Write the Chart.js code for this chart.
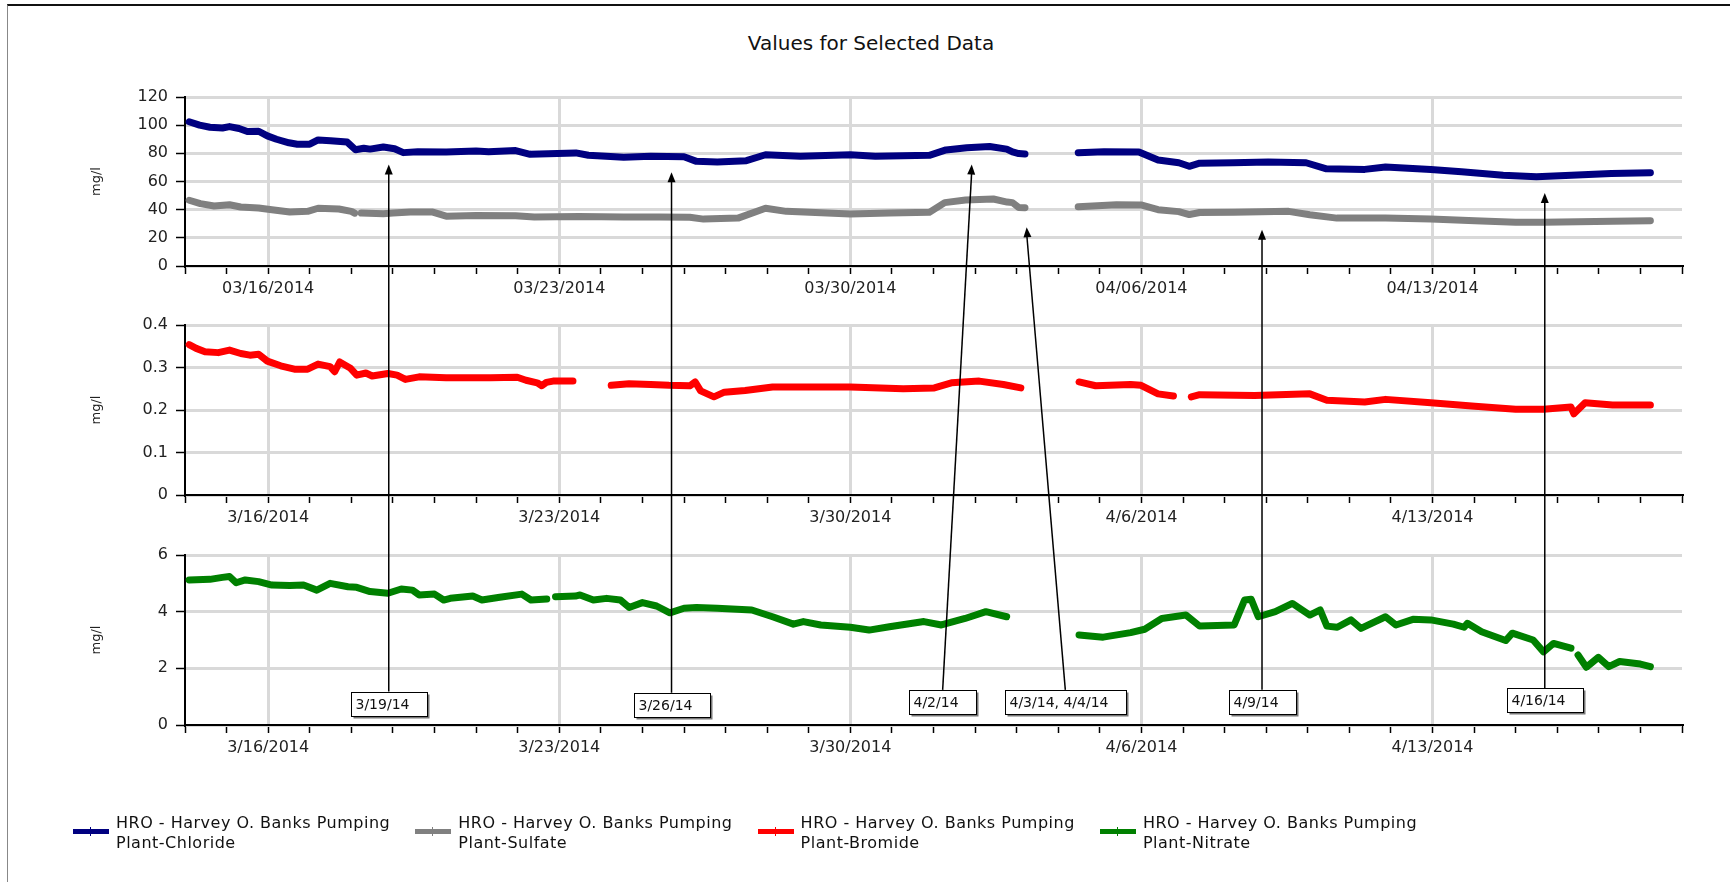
<!DOCTYPE html>
<html lang="en">
<head>
<meta charset="UTF-8">
<title>Values for Selected Data</title>
<script src="https://cdn.jsdelivr.net/npm/chart.js"></script>
<style>
  body { margin: 0; background: #fff; font-family: 'DejaVu Sans', sans-serif; }
  #wrap { position: relative; width: 1730px; height: 882px; overflow: hidden; }
  .frame { position: absolute; left: 7px; top: 4px; right: -10px; bottom: -10px;
           border-top: 2px solid #111; border-left: 1px solid #888; }
  canvas { position: absolute; left: 0; top: 0; }
  h1 { position: absolute; left: 0; top: 31px; width: 1742px; margin: 0; font-size: 20px;
       line-height: 24px; font-weight: normal; text-align: center; color: #111; }
  .lg { position: absolute; top: 813px; font-size: 16px; line-height: 20px; letter-spacing: 0.5px;
        color: #111; white-space: pre-line; }
  .lg .mark { position: absolute; left: 0; top: 16px; width: 36px; height: 5px; }
  .lg .mark::after { content: ''; position: absolute; left: 17px; top: -2px; width: 1px; height: 9px; background: inherit; }
  .lg .txt { margin-left: 43px; }
</style>
</head>
<body>
<div id="wrap">
  <div class="frame"></div>
  <h1>Values for Selected Data</h1>
  <canvas id="c1" width="1730" height="882"></canvas>
  <canvas id="c2" width="1730" height="882"></canvas>
  <canvas id="c3" width="1730" height="882"></canvas>
  <div id="legend"></div>
</div>

<script>
  // x is in days since 3/14/2014 00:00
  const dayTicks = Array.from({ length: 37 }, (_, i) => i);
  const weekTicks = [2, 9, 16, 23, 30];
  const topTickLabels = ['03/16/2014', '03/23/2014', '03/30/2014', '04/06/2014', '04/13/2014'];
  const lowTickLabels = ['3/16/2014', '3/23/2014', '3/30/2014', '4/6/2014', '4/13/2014'];

  const seriesNames = [
    'HRO - Harvey O. Banks Pumping\nPlant-Chloride',
    'HRO - Harvey O. Banks Pumping\nPlant-Sulfate',
    'HRO - Harvey O. Banks Pumping\nPlant-Bromide',
    'HRO - Harvey O. Banks Pumping\nPlant-Nitrate'
  ];
  const seriesColors = ['#000080', '#808080', '#ff0000', '#008000'];

  const chlorideDay = [0.1, 0.35, 0.6, 0.9, 1.07, 1.3, 1.5, 1.77, 1.98, 2.2, 2.5, 2.7, 3.0, 3.2, 3.5, 3.9, 4.1, 4.3, 4.45, 4.77,
    5.04, 5.25, 5.6, 6.28, 7.0, 7.3, 7.95, 8.3, 8.95, 9.4, 9.7, 10.55, 11.2, 12.0, 12.3, 12.8, 13.5, 13.96, 14.8, 16,
    16.6, 17.9, 18.3, 18.8, 19.35, 19.76, 19.9, 20.05, 20.2, 20.8, 21.48, 22.1, 22.94, 23.4, 23.9, 24.15, 24.4, 25.2, 26.05, 26.96,
    27.45, 28.37, 28.87, 29.96, 30.7, 31.7, 32.5, 33.2, 34.3, 35.24];
  const chlorideMgl = [102.4, 100, 98.5, 98, 99, 97.6, 95.5, 95.7, 92.4, 90, 87.5, 86.5, 86.5, 89.5, 89, 88, 82.5, 83.6, 83, 84.5,
    83.3, 80.5, 81.2, 81, 81.7, 81.2, 82, 79.3, 79.8, 80.3, 78.6, 77.3, 78, 77.6, 74.3, 73.8, 74.8, 79, 78, 79,
    78, 78.6, 82.4, 84, 84.8, 83, 81, 79.8, 79.5, null, 80.5, 81.2, 81, 75.2, 73.3, 70.8, 73, 73.3, 73.8, 73.3,
    69, 68.6, 70.3, 68.6, 67, 64.5, 63.3, 64.3, 65.7, 66.2];

  const sulfateDay = [0.1, 0.37, 0.7, 1.07, 1.34, 1.77, 2.09, 2.52, 2.95, 3.2, 3.7, 4.0, 4.08, 4.15, 4.24, 4.77, 5.0, 5.42, 5.96, 6.28,
    7.0, 7.95, 8.4, 9.48, 10.55, 11.4, 12.14, 12.47, 13.3, 13.96, 14.46, 16, 16.94, 17.9, 18.27, 18.77, 19.44, 19.77, 19.9, 20.05,
    20.2, 20.8, 21.48, 22.4, 22.99, 23.4, 23.9, 24.15, 24.4, 25.22, 26.54, 27.05, 27.7, 28.87, 29.96, 31.02, 32.0, 32.67, 34.33, 35.24];
  const sulfateMgl = [46.7, 44.3, 42.6, 43.5, 41.9, 41.2, 40, 38.3, 38.8, 41, 40.5, 38.8, 37.5, null, 37.6, 37.1, 37.6, 38.3, 38.3, 35.4,
    35.9, 35.7, 34.8, 35.2, 34.8, 34.8, 34.6, 33.3, 34, 41, 38.8, 36.9, 37.6, 38.1, 45, 46.8, 47.6, 45.4, 45, 41.5,
    41.4, null, 42.1, 43.5, 43.4, 40, 38.6, 36.5, 38, 38.1, 38.8, 36.4, 34, 34, 33.3, 32.1, 31, 31, 31.7, 32.1];

  const bromideDay = [0.1, 0.27, 0.48, 0.8, 1.07, 1.34, 1.56, 1.77, 1.98, 2.3, 2.63, 2.95, 3.2, 3.49, 3.6, 3.72, 3.97, 4.13, 4.35, 4.5,
    4.88, 5.1, 5.3, 5.63, 6.28, 6.92, 7.35, 7.99, 8.2, 8.47, 8.58, 8.69, 8.85, 9.07, 9.33, 9.8, 10.25, 10.68, 11.2, 11.64,
    12.14, 12.27, 12.4, 12.72, 12.97, 13.47, 14.13, 15.29, 16, 17.27, 18.02, 18.43, 19.1, 19.68, 20.1, 20.8, 21.5, 21.9, 22.74, 22.99,
    23.4, 23.77, 24.0, 24.2, 24.4, 25.72, 27.05, 27.46, 28.37, 28.87, 29.96, 31.02, 32.0, 32.67, 33.33, 33.4, 33.67, 34.33, 35.24];
  const bromideMgl = [0.354, 0.345, 0.337, 0.335, 0.341, 0.333, 0.329, 0.331, 0.315, 0.304, 0.296, 0.296, 0.308, 0.302, 0.29, 0.313, 0.299, 0.282, 0.287, 0.28,
    0.286, 0.282, 0.272, 0.278, 0.276, 0.276, 0.276, 0.277, 0.27, 0.264, 0.257, 0.265, 0.268, 0.268, 0.268, null, 0.258, 0.262, 0.26, 0.258,
    0.257, 0.266, 0.245, 0.231, 0.242, 0.246, 0.254, 0.254, 0.254, 0.25, 0.252, 0.264, 0.268, 0.26, 0.252, null, 0.266, 0.257, 0.26, 0.258,
    0.238, 0.233, null, 0.231, 0.236, 0.234, 0.238, 0.223, 0.219, 0.225, 0.217, 0.209, 0.202, 0.202, 0.207, 0.191, 0.217, 0.212, 0.212];

  const nitrateDay = [0.1, 0.6, 0.9, 1.07, 1.23, 1.45, 1.77, 2.09, 2.52, 2.85, 3.17, 3.49, 3.92, 4.13, 4.45, 4.88, 5.2, 5.47, 5.63, 6.0,
    6.22, 6.38, 6.92, 7.14, 7.57, 8.1, 8.32, 8.7, 8.8, 8.91, 9.39, 9.5, 9.82, 10.14, 10.47, 10.68, 11.0, 11.34, 11.66, 12.0,
    12.3, 12.8, 13.63, 14.13, 14.63, 14.87, 15.29, 16, 16.45, 16.94, 17.77, 18.19, 18.76, 19.26, 19.76, 20.5, 21.5, 22.08, 22.74, 23.08,
    23.49, 24.07, 24.4, 25.23, 25.48, 25.64, 25.81, 26.22, 26.63, 27.05, 27.3, 27.46, 27.71, 28.04, 28.28, 28.87, 29.12, 29.53, 29.96, 30.5,
    30.76, 30.84, 31.18, 31.76, 31.92, 32.42, 32.67, 32.91, 33.33, 33.42, 33.5, 33.7, 33.99, 34.24, 34.5, 35.0, 35.24];
  const nitrateMgl = [5.12, 5.14, 5.21, 5.24, 5.02, 5.12, 5.06, 4.94, 4.92, 4.94, 4.76, 5.0, 4.88, 4.86, 4.71, 4.65, 4.8, 4.76, 4.59, 4.62,
    4.41, 4.47, 4.55, 4.41, 4.51, 4.62, 4.41, 4.45, null, 4.53, 4.55, 4.59, 4.41, 4.47, 4.41, 4.15, 4.32, 4.2, 3.96, 4.12,
    4.15, 4.12, 4.06, 3.82, 3.56, 3.65, 3.53, 3.45, 3.35, 3.47, 3.65, 3.53, 3.76, 4.0, 3.82, null, 3.18, 3.1, 3.26, 3.38,
    3.76, 3.88, 3.49, 3.53, 4.41, 4.44, 3.82, 4.0, 4.29, 3.88, 4.06, 3.49, 3.45, 3.71, 3.41, 3.82, 3.53, 3.73, 3.71, 3.56,
    3.45, 3.59, 3.29, 2.98, 3.24, 3.0, 2.58, 2.88, 2.71, null, 2.47, 2.04, 2.39, 2.06, 2.24, 2.15, 2.06];

  // arrows from the date boxes (bottom panel) up to the top panel
  const calloutText = ['3/19/14', '3/26/14', '4/2/14', '4/3/14, 4/4/14', '4/9/14', '4/16/14'];
  const calloutFromDay = [4.9, 11.7, 18.22, 21.17, 25.9, 32.7];
  const calloutBoxTop = [1.18, 1.14, 1.24, 1.24, 1.24, 1.29];     // nitrate panel units
  const calloutToDay = [4.9, 11.7, 18.92, 20.24, 25.9, 32.7];
  const calloutToMgl = [72, 66.5, 72, 27.5, 25.8, 51.8];          // top panel units

  Chart.defaults.font.family = "'DejaVu Sans', sans-serif";

  const pts = (xs, ys) => xs.map((x, i) => ({ x: x, y: ys[i] }));

  function series(i, xs, ys) {
    return { label: seriesNames[i], data: pts(xs, ys), borderColor: seriesColors[i], backgroundColor: seriesColors[i],
             borderWidth: 7, borderCapStyle: 'round', borderJoinStyle: 'round',
             pointRadius: 0, tension: 0, spanGaps: false };
  }

  function panel(id, datasets, yMax, yStep, tickLabels, padTop, padBottom, plugins) {
    return new Chart(document.getElementById(id), {
      type: 'line',
      data: { datasets: datasets },
      plugins: plugins || [],
      options: {
        responsive: false,
        animation: false,
        events: [],
        layout: { padding: { left: 85, right: 48, top: padTop, bottom: padBottom } },
        plugins: { legend: { display: false }, title: { display: false }, tooltip: { enabled: false } },
        scales: {
          x: {
            type: 'linear', min: 0, max: 36,
            afterFit: s => { s.height = 40; },
            afterBuildTicks: s => { s.ticks = dayTicks.map(v => ({ value: v })); },
            ticks: {
              autoSkip: false, maxRotation: 0, padding: 5, color: '#222', font: { size: 16 },
              callback: v => { const i = weekTicks.indexOf(v); return i < 0 ? '' : tickLabels[i]; }
            },
            grid: {
              color: c => (c.tick && weekTicks.includes(c.tick.value)) ? '#d9d9d9' : 'rgba(0,0,0,0)',
              lineWidth: 3, tickColor: '#000', tickLength: 8, tickWidth: 1.5
            },
            border: { color: '#000', width: 2 }
          },
          y: {
            min: 0, max: yMax,
            afterFit: s => { s.width = 100; },
            ticks: { stepSize: yStep, padding: 8, color: '#222', font: { size: 16 },
                     callback: v => +v.toFixed(1) },
            grid: { color: '#d9d9d9', lineWidth: 3, tickColor: '#000', tickLength: 9, tickWidth: 1.5 },
            border: { color: '#000', width: 2 },
            title: { display: true, text: 'mg/l', color: '#222', font: { size: 13 }, padding: { top: 4, bottom: 0 } }
          }
        }
      }
    });
  }

  const topChart = panel('c1', [series(0, chlorideDay, chlorideMgl), series(1, sulfateDay, sulfateMgl)],
    120, 20, topTickLabels, 97, 576);

  const midChart = panel('c2', [series(2, bromideDay, bromideMgl)],
    0.4, 0.1, lowTickLabels, 325, 347);

  const callouts = {
    id: 'callouts',
    afterDraw(chart) {
      const ctx = chart.ctx;
      const x1 = topChart.scales.x, y1 = topChart.scales.y;
      const x3 = chart.scales.x, y3 = chart.scales.y;
      ctx.save();
      ctx.font = "14px 'DejaVu Sans', sans-serif";
      calloutText.forEach((t, i) => {
        const bx = x3.getPixelForValue(calloutFromDay[i]);
        const by = y3.getPixelForValue(calloutBoxTop[i]);
        const tx = x1.getPixelForValue(calloutToDay[i]);
        const ty = y1.getPixelForValue(calloutToMgl[i]);

        // leader line
        ctx.strokeStyle = '#000';
        ctx.lineWidth = 1.5;
        ctx.beginPath();
        ctx.moveTo(bx, by);
        ctx.lineTo(tx, ty + 6);
        ctx.stroke();

        // arrow head
        const a = Math.atan2(ty - by, tx - bx);
        ctx.fillStyle = '#000';
        ctx.beginPath();
        ctx.moveTo(tx, ty);
        ctx.lineTo(tx - 10 * Math.cos(a) + 4 * Math.sin(a), ty - 10 * Math.sin(a) - 4 * Math.cos(a));
        ctx.lineTo(tx - 10 * Math.cos(a) - 4 * Math.sin(a), ty - 10 * Math.sin(a) + 4 * Math.cos(a));
        ctx.closePath();
        ctx.fill();

        // label box
        const w = Math.round(ctx.measureText(t).width + 22), h = 24;
        const left = Math.round(bx - w / 2) + 0.5, top = Math.round(by) + 0.5;
        ctx.fillStyle = '#777';
        ctx.fillRect(left + 2, top + 2, w, h);
        ctx.fillStyle = '#fff';
        ctx.fillRect(left, top, w, h);
        ctx.strokeStyle = '#000';
        ctx.lineWidth = 1;
        ctx.strokeRect(left, top, w, h);
        ctx.fillStyle = '#111';
        ctx.textBaseline = 'middle';
        ctx.fillText(t, left + 4, top + h / 2 + 1);
      });
      ctx.restore();
    }
  };

  const lowChart = panel('c3', [series(3, nitrateDay, nitrateMgl)],
    6, 2, lowTickLabels, 555, 117, [callouts]);

  // legend
  const legend = document.getElementById('legend');
  seriesNames.forEach((name, i) => {
    const item = document.createElement('div');
    item.className = 'lg';
    item.style.left = (73 + i * 342.3) + 'px';
    const mark = document.createElement('div');
    mark.className = 'mark';
    mark.style.background = seriesColors[i];
    const txt = document.createElement('div');
    txt.className = 'txt';
    txt.textContent = name;
    item.appendChild(mark);
    item.appendChild(txt);
    legend.appendChild(item);
  });
</script>
</body>
</html>
